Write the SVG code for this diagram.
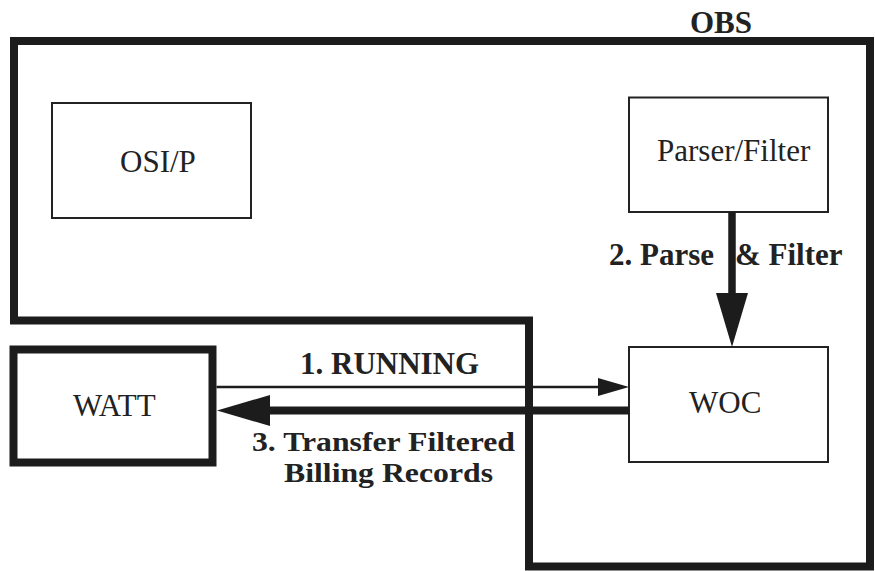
<svg xmlns="http://www.w3.org/2000/svg" width="875" height="571" viewBox="0 0 875 571">
<style>
.bg{fill:#ffffff}
.thick{fill:none;stroke:#1c1c1c;stroke-width:8;stroke-linejoin:miter}
.box{fill:#ffffff;stroke:#222222;stroke-width:2}
.lbl{font-family:"Liberation Serif","Times New Roman",serif;font-size:31px;fill:#222222}
.b{font-weight:bold}
.sm{font-size:27.5px}
.ah{fill:#1c1c1c;stroke:none}
</style>
<rect class="bg" x="0" y="0" width="875" height="571"/>
<g id="obs">
<path class="thick" d="M14,41 H870 V566.5 H529 V320.5 H14 Z"/>
<text class="lbl b" x="690" y="33">OBS</text>
</g>
<g id="osip">
<rect class="box" x="52" y="103" width="199" height="115"/>
<text class="lbl" x="120" y="172">OSI/P</text>
</g>
<g id="parser-filter">
<rect class="box" x="629" y="97.5" width="199" height="114.5"/>
<text class="lbl" x="657" y="161">Parser/Filter</text>
</g>
<g id="woc">
<rect class="box" x="629" y="347" width="199" height="115"/>
<text class="lbl" x="689" y="413">WOC</text>
</g>
<g id="watt">
<rect class="thick" x="13.5" y="349.5" width="199" height="113"/>
<text class="lbl" x="73" y="416">WATT</text>
</g>
<g id="connectors">
<line x1="732" y1="212" x2="732" y2="295" stroke="#1c1c1c" stroke-width="7.5"/>
<polygon class="ah" points="716,293 748,293 732,347"/>
<line x1="216.5" y1="387" x2="600" y2="387" stroke="#1c1c1c" stroke-width="2.5"/>
<polygon class="ah" points="598,378 629,387 598,396"/>
<line x1="268" y1="410.5" x2="629" y2="410.5" stroke="#1c1c1c" stroke-width="8"/>
<polygon class="ah" points="217,410.5 270,395 270,426"/>
<text class="lbl b" x="609" y="265">2. Parse<tspan x="735">&amp; Filter</tspan></text>
<text class="lbl b" x="300" y="374">1. RUNNING</text>
<text class="lbl b sm" x="252" y="451" textLength="263" lengthAdjust="spacingAndGlyphs">3. Transfer Filtered</text>
<text class="lbl b sm" x="284" y="481.5" textLength="209" lengthAdjust="spacingAndGlyphs">Billing Records</text>
</g>
</svg>
